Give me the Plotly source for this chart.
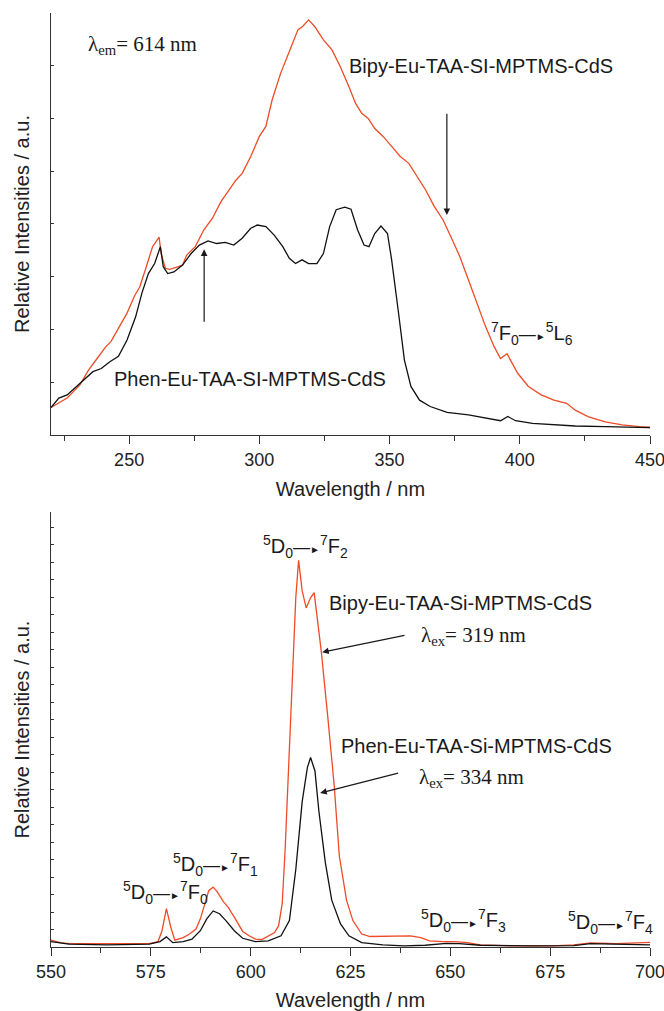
import plotly.graph_objects as go

# ---------------- Top panel: excitation spectra (lambda_em = 614 nm) ----------------
exc_wl_bipy = [220, 223, 226.2, 231.1, 234.4, 237.7, 241, 243, 245.9, 249.2, 252.1, 254.1, 256.6, 259,
               261.5, 262.3, 263.9, 265.6, 268.9, 270.5, 272.1, 275.4, 278.7, 282, 285.2, 288.5, 291,
               293.4, 296.7, 300, 302.5, 304.9, 308.2, 311.5, 314.8, 316.7, 318.9, 321.3, 324.6, 327.9,
               331.1, 334.4, 336.9, 339.3, 341.8, 344.3, 347.5, 350.8, 354.1, 357.4, 360.7, 363.9, 367.2,
               370.5, 373.8, 377, 380.3, 383.6, 386.9, 390.2, 392.6, 395.1, 396.7, 399.2, 403.3, 408.2,
               413.1, 418, 421.3, 426.2, 432.8, 439.3, 445.9, 450]
exc_bipy = [0.52, 0.60, 0.70, 0.95, 1.23, 1.45, 1.67, 1.77, 2.02, 2.31, 2.64, 2.81, 3.19, 3.57,
            3.75, 3.44, 3.16, 3.14, 3.19, 3.22, 3.41, 3.57, 3.89, 4.11, 4.42, 4.64, 4.83,
            4.96, 5.28, 5.66, 5.85, 6.35, 6.86, 7.27, 7.68, 7.75, 7.87, 7.74, 7.49, 7.30,
            6.98, 6.60, 6.29, 6.10, 6.00, 5.81, 5.66, 5.47, 5.28, 5.15, 4.90, 4.64, 4.33,
            4.08, 3.73, 3.38, 2.94, 2.50, 2.05, 1.67, 1.45, 1.54, 1.39, 1.17, 0.92, 0.76,
            0.66, 0.60, 0.47, 0.35, 0.25, 0.19, 0.16, 0.15]

exc_wl_phen = [220, 223, 226.2, 231.1, 236.1, 239.3, 242.6, 245.9, 249.2, 252.5, 254.9, 257.4, 259.8,
               262, 263.1, 264.8, 267.2, 270.5, 273.8, 277, 280.3, 283.6, 286.9, 290.2, 293.4, 296.7,
               299.2, 302.5, 305.7, 309, 311.5, 313.9, 316.4, 318.9, 322.1, 324.6, 327, 329.5, 332.8,
               335.2, 337.7, 340.2, 342.1, 344.3, 346.7, 349.2, 350.8, 353.3, 355.7, 358.2, 361.5,
               365.6, 372.1, 380.3, 386.9, 392.6, 395.4, 398.4, 404.9, 413.1, 421.3, 432.8, 450]
exc_phen = [0.52, 0.70, 0.76, 0.98, 1.20, 1.26, 1.39, 1.49, 1.80, 2.24, 2.69, 3.06, 3.25,
            3.57, 3.19, 3.06, 3.09, 3.22, 3.44, 3.60, 3.68, 3.63, 3.65, 3.60, 3.73, 3.92,
            3.98, 3.95, 3.79, 3.57, 3.35, 3.25, 3.32, 3.25, 3.25, 3.44, 3.95, 4.27, 4.32,
            4.28, 3.89, 3.60, 3.57, 3.82, 3.96, 3.82, 3.32, 2.37, 1.42, 0.92, 0.66,
            0.54, 0.43, 0.38, 0.32, 0.27, 0.35, 0.27, 0.22, 0.19, 0.17, 0.16, 0.14]

# ---------------- Bottom panel: emission spectra ----------------
em_wl_bipy = [550, 552.3, 554.5, 558.7, 564, 569.3, 574.6, 576.8, 577.8, 578.9, 580, 581, 583.1, 584.7,
              586.3, 587.4, 588.5, 589.5, 590.6, 591.6, 593.2, 594.3, 595.9, 598, 599.6, 601.2, 602.8,
              604.4, 606, 607, 607.9, 608.6, 609.7, 610.8, 611.3, 612, 612.9, 613.9, 615, 615.9, 616.9,
              617.7, 619.3, 620.9, 622.2, 624, 625.6, 627.8, 629.9, 635.2, 640, 642.6, 644.8, 648,
              651.1, 654.3, 657.5, 665, 675.6, 680.9, 685.1, 691.5, 700]
em_bipy = [0.39, 0.25, 0.19, 0.19, 0.16, 0.16, 0.19, 0.31, 0.93, 2.19, 1.13, 0.39, 0.54, 0.74,
           1.03, 1.61, 2.49, 3.22, 3.42, 3.17, 2.58, 2.29, 1.71, 0.89, 0.64, 0.45, 0.43,
           0.64, 0.83, 1.22, 2.49, 5.40, 11.22, 17.05, 19.96, 22.10, 20.35, 19.38, 19.96, 20.25, 18.41,
           16.85, 13.17, 9.28, 5.20, 2.68, 1.51, 0.74, 0.60, 0.60, 0.64, 0.54, 0.35, 0.31,
           0.31, 0.25, 0.12, 0.06, 0.06, 0.12, 0.23, 0.19, 0.27]

em_wl_phen = [550, 554.5, 564, 574.6, 577.3, 578.9, 580.5, 583.1, 585.3, 587.4, 589, 590.6, 592.2,
              593.8, 595.9, 598, 601.2, 604.4, 607.6, 609.7, 611.3, 612.9, 614.2, 615, 616.1, 617.1,
              618.7, 620.3, 622.5, 624.6, 627.8, 633.1, 638.4, 643.7, 649, 652.2, 657.5, 670.3,
              680.9, 685.1, 700]
em_phen = [0.31, 0.16, 0.12, 0.16, 0.31, 0.58, 0.25, 0.31, 0.45, 0.93, 1.61, 2.06, 1.90,
           1.51, 0.93, 0.50, 0.31, 0.35, 0.64, 1.51, 4.43, 8.31, 10.25, 10.83, 10.06, 7.73,
           4.82, 2.68, 1.32, 0.64, 0.25, 0.12, 0.06, 0.10, 0.21, 0.19, 0.10, 0.06,
           0.08, 0.19, 0.12]

x_top_ticks = [250, 300, 350, 400, 450]
x_bot_ticks = [550, 575, 600, 625, 650, 675, 700]

RED = "#EE4B26"
BLACK = "#111111"
SANS = "Liberation Sans, Arial, sans-serif"
SERIF = "Liberation Serif, Times New Roman, serif"

fig = go.Figure()
fig.add_trace(go.Scatter(x=exc_wl_bipy, y=exc_bipy, mode="lines", line=dict(color=RED, width=1.3),
                         xaxis="x", yaxis="y", showlegend=False))
fig.add_trace(go.Scatter(x=exc_wl_phen, y=exc_phen, mode="lines", line=dict(color=BLACK, width=1.3),
                         xaxis="x", yaxis="y", showlegend=False))
fig.add_trace(go.Scatter(x=em_wl_bipy, y=em_bipy, mode="lines", line=dict(color=RED, width=1.3),
                         xaxis="x2", yaxis="y2", showlegend=False))
fig.add_trace(go.Scatter(x=em_wl_phen, y=em_phen, mode="lines", line=dict(color=BLACK, width=1.3),
                         xaxis="x2", yaxis="y2", showlegend=False))

axis_common = dict(showline=True, linecolor="#333333", linewidth=1.3, showgrid=False, zeroline=False,
                   automargin=False,
                   tickcolor="#333333", tickfont=dict(family=SANS, size=18, color="#222222"))
xcommon = dict(axis_common, ticks="outside", ticklen=8, tickwidth=1.2, ticklabeloverflow="allow",
               title=dict(text="Wavelength / nm", font=dict(family=SANS, size=20, color="#222222"), standoff=13))
ycommon = dict(axis_common, ticks="inside", ticklen=3, tickwidth=1, showticklabels=False,
               title=dict(text="Relative Intensities / a.u.", font=dict(family=SANS, size=20, color="#222222"),
                          standoff=14))

fig.update_layout(
    width=664, height=1011,
    margin=dict(l=51, r=14, t=13, b=64),
    paper_bgcolor="white", plot_bgcolor="white",
    xaxis=dict(xcommon, domain=[0, 1], anchor="y", range=[220, 450], tickvals=x_top_ticks,
               minor=dict(dtick=25, tick0=225, ticks="outside", ticklen=5, tickcolor="#333333")),
    yaxis=dict(ycommon, domain=[0.5482, 1], anchor="x", range=[0, 8], dtick=1),
    xaxis2=dict(xcommon, domain=[0, 1], anchor="y2", range=[550, 700], tickvals=x_bot_ticks,
                minor=dict(dtick=12.5, tick0=550, ticks="outside", ticklen=5, tickcolor="#333333")),
    yaxis2=dict(ycommon, domain=[0, 0.4657], anchor="x2", range=[0, 24.86], dtick=1),
)

ann = []
def txt(x, y, text, xref, yref, font=SANS, size=20):
    ann.append(dict(x=x, y=y, xref=xref, yref=yref, text=text, showarrow=False, xanchor="left",
                    yanchor="middle", font=dict(family=font, size=size, color="#1a1a1a")))

def arrow(x, y, ax, ay, xref, yref):
    ann.append(dict(x=x, y=y, ax=ax, ay=ay, xref=xref, yref=yref, axref=xref, ayref=yref, text="",
                    showarrow=True, arrowhead=2, arrowsize=1.1, arrowwidth=1.2, arrowcolor="#1a1a1a"))

ARR = "<span style='font-size:17px'>\u2014</span><span style='font-size:10px'>\u25BA</span>"
TS = 20  # transition label size
# top panel
txt(233.6, 7.39, "\u03bb<sub>em</sub>= 614 nm", "x", "y", SERIF, 21)
txt(333.6, 7.0, "Bipy-Eu-TAA-SI-MPTMS-CdS", "x", "y")
txt(243.4, 1.07, "Phen-Eu-TAA-SI-MPTMS-CdS", "x", "y")
txt(388.0, 1.93, "<sup>7</sup>F<sub>0</sub>" + ARR + "<sup>5</sup>L<sub>6</sub>", "x", "y", SANS, TS)
arrow(372, 4.17, 372, 6.12, "x", "y")
arrow(278.8, 3.52, 278.8, 2.12, "x", "y")

# bottom panel
txt(602.6, 22.9, "<sup>5</sup>D<sub>0</sub>" + ARR + "<sup>7</sup>F<sub>2</sub>", "x2", "y2", SANS, TS)
txt(619.1, 19.67, "Bipy-Eu-TAA-Si-MPTMS-CdS", "x2", "y2")
txt(642.1, 17.79, "\u03bb<sub>ex</sub>= 319 nm", "x2", "y2", SERIF, 21)
txt(622.1, 11.51, "Phen-Eu-TAA-Si-MPTMS-CdS", "x2", "y2")
txt(641.6, 9.67, "\u03bb<sub>ex</sub>= 334 nm", "x2", "y2", SERIF, 21)
txt(580.0, 4.72, "<sup>5</sup>D<sub>0</sub>" + ARR + "<sup>7</sup>F<sub>1</sub>", "x2", "y2", SANS, TS)
txt(567.6, 3.10, "<sup>5</sup>D<sub>0</sub>" + ARR + "<sup>7</sup>F<sub>0</sub>", "x2", "y2", SANS, TS)
txt(642.1, 1.51, "<sup>5</sup>D<sub>0</sub>" + ARR + "<sup>7</sup>F<sub>3</sub>", "x2", "y2", SANS, TS)
txt(679.0, 1.42, "<sup>5</sup>D<sub>0</sub>" + ARR + "<sup>7</sup>F<sub>4</sub>", "x2", "y2", SANS, TS)
arrow(617.9, 16.85, 638.9, 17.83, "x2", "y2")
arrow(617.4, 8.80, 637.3, 9.96, "x2", "y2")

fig.update_layout(annotations=ann)
fig.write_html("out.html")
